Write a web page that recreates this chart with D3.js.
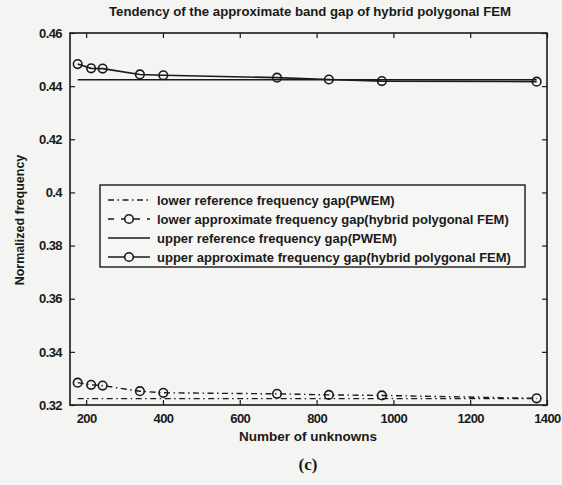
<!DOCTYPE html>
<html>
<head>
<meta charset="utf-8">
<script src="https://cdn.jsdelivr.net/npm/d3@7"></script>
<style>
  html, body { margin: 0; padding: 0; background: #f4f4f2; }
  svg { display: block; }
  text { font-family: "Liberation Sans", Arial, sans-serif; fill: #1a1a1a; }
</style>
</head>
<body>
<svg id="chart" width="562" height="485"></svg>
<script>
// Mesh sizes (number of unknowns) for the hybrid polygonal FEM runs
const unknowns = [178, 213, 243, 340, 401, 697, 832, 970, 1373];
// Upper edge of the band gap
const upperApprox = [0.4483, 0.4467, 0.4466, 0.4444, 0.4441, 0.4432, 0.4425, 0.4419, 0.4417];
const upperReference = 0.4424;
// Lower edge of the band gap
const lowerApprox = [0.3284, 0.3276, 0.3273, 0.3252, 0.3246, 0.3242, 0.3238, 0.3236, 0.3225];
const lowerReference = 0.3224;

const xTicks = [200, 400, 600, 800, 1000, 1200, 1400];
const yTicks = [0.32, 0.34, 0.36, 0.38, 0.40, 0.42, 0.44, 0.46];
const yTickLabels = ["0.32", "0.34", "0.36", "0.38", "0.4", "0.42", "0.44", "0.46"];

const legendLabels = [
  "lower reference frequency gap(PWEM)",
  "lower approximate frequency gap(hybrid polygonal FEM)",
  "upper reference frequency gap(PWEM)",
  "upper approximate frequency gap(hybrid polygonal FEM)"
];

const ink = "#1a1a1a";
const dashDot = "6,3.5,1.5,3.5";
const svg = d3.select("#chart");
const plotLeft = 70, plotRight = 547, plotTop = 33, plotBottom = 405;

const x = d3.scaleLinear().domain([158, 1400]).range([plotLeft, plotRight]);
const y = d3.scaleLinear().domain([0.32, 0.46]).range([plotBottom, plotTop]);

// Title
svg.append("text")
  .attr("x", 310).attr("y", 16)
  .attr("text-anchor", "middle")
  .attr("font-size", 13.2).attr("font-weight", "bold")
  .text("Tendency of the approximate band gap of hybrid polygonal FEM");

// Axes with inward ticks on all four sides
const tickLen = 5;
const axB = d3.axisBottom(x).tickValues(xTicks).tickSizeInner(-tickLen).tickSizeOuter(0).tickPadding(9).tickFormat(d3.format("d"));
const axT = d3.axisTop(x).tickValues(xTicks).tickSizeInner(-tickLen).tickSizeOuter(0).tickFormat("");
const axL = d3.axisLeft(y).tickValues(yTicks).tickSizeInner(-tickLen).tickSizeOuter(0).tickPadding(8)
  .tickFormat((d, i) => yTickLabels[i]);
const axR = d3.axisRight(y).tickValues(yTicks).tickSizeInner(-tickLen).tickSizeOuter(0).tickFormat("");

function styleAxis(g) {
  g.select(".domain").remove();
  g.selectAll(".tick line").attr("stroke", ink).attr("stroke-width", 1.2);
  g.selectAll(".tick text").attr("fill", ink).attr("font-size", 13).attr("font-weight", "bold")
    .attr("letter-spacing", -0.6).style("font-family", "'Liberation Sans', Arial, sans-serif");
}
svg.append("g").attr("transform", `translate(0,${plotBottom})`).call(axB).call(styleAxis);
svg.append("g").attr("transform", `translate(0,${plotTop})`).call(axT).call(styleAxis);
svg.append("g").attr("transform", `translate(${plotLeft},0)`).call(axL).call(styleAxis);
svg.append("g").attr("transform", `translate(${plotRight},0)`).call(axR).call(styleAxis);

svg.append("rect")
  .attr("x", plotLeft).attr("y", plotTop).attr("width", plotRight - plotLeft).attr("height", plotBottom - plotTop)
  .attr("fill", "none").attr("stroke", ink).attr("stroke-width", 1.6);

// Axis titles
svg.append("text")
  .attr("x", 308).attr("y", 441)
  .attr("text-anchor", "middle").attr("font-size", 13.5).attr("font-weight", "bold")
  .text("Number of unknowns");
svg.append("text")
  .attr("transform", "translate(24,220) rotate(-90)")
  .attr("text-anchor", "middle").attr("font-size", 12.5).attr("font-weight", "bold")
  .text("Normalized frequency");

svg.append("text")
  .attr("x", 308).attr("y", 470)
  .attr("text-anchor", "middle").attr("font-size", 17).attr("font-weight", "bold")
  .style("font-family", "'Liberation Serif', 'Times New Roman', serif")
  .text("(c)");

// Data lines
const plot = svg.append("g");
const line = d3.line().x(d => x(d[0])).y(d => y(d[1]));
const xExtent = [unknowns[0], unknowns[unknowns.length - 1]];

plot.append("path")
  .datum(xExtent.map(u => [u, lowerReference]))
  .attr("d", line).attr("fill", "none").attr("stroke", ink).attr("stroke-width", 1.4)
  .attr("stroke-dasharray", dashDot);
plot.append("path")
  .datum(unknowns.map((u, i) => [u, lowerApprox[i]]))
  .attr("d", line).attr("fill", "none").attr("stroke", ink).attr("stroke-width", 1.4)
  .attr("stroke-dasharray", dashDot);
plot.append("path")
  .datum(xExtent.map(u => [u, upperReference]))
  .attr("d", line).attr("fill", "none").attr("stroke", ink).attr("stroke-width", 1.4);
plot.append("path")
  .datum(unknowns.map((u, i) => [u, upperApprox[i]]))
  .attr("d", line).attr("fill", "none").attr("stroke", ink).attr("stroke-width", 1.6);

function circles(values) {
  plot.append("g").selectAll("circle")
    .data(unknowns.map((u, i) => [u, values[i]]))
    .join("circle")
    .attr("cx", d => x(d[0])).attr("cy", d => y(d[1])).attr("r", 4.3)
    .attr("fill", "none").attr("stroke", ink).attr("stroke-width", 1.6);
}
circles(lowerApprox);
circles(upperApprox);

// Legend
const lg = svg.append("g");
lg.append("rect").attr("x", 100).attr("y", 185).attr("width", 425).attr("height", 82)
  .attr("fill", "#f6f6f4").attr("stroke", ink).attr("stroke-width", 1.4);
const rowY = [200, 219, 238, 257];
const styles = [
  { dash: dashDot, marker: false },
  { dash: "6,7", marker: true },
  { dash: null, marker: false },
  { dash: null, marker: true }
];
legendLabels.forEach((lab, i) => {
  const yy = rowY[i];
  const s = styles[i];
  lg.append("line").attr("x1", 108).attr("x2", 150).attr("y1", yy).attr("y2", yy)
    .attr("stroke", ink).attr("stroke-width", 1.4)
    .attr("stroke-dasharray", s.dash);
  if (s.marker) {
    lg.append("circle").attr("cx", 129).attr("cy", yy).attr("r", 4.3)
      .attr("fill", "#f6f6f4").attr("stroke", ink).attr("stroke-width", 1.6);
  }
  lg.append("text").attr("x", 157).attr("y", yy + 4.5)
    .attr("font-size", 13).attr("font-weight", "bold")
    .text(lab);
});
</script>
</body>
</html>
